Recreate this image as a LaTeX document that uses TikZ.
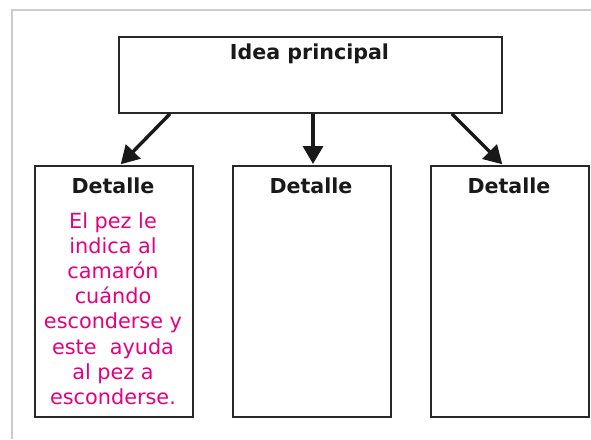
\documentclass[tikz,border=0pt]{standalone}
\usepackage{fontspec}
\setmainfont{DejaVu Sans}
\usetikzlibrary{arrows.meta}
\definecolor{framegray}{RGB}{204,204,204}
\definecolor{boxline}{RGB}{40,40,40}
\definecolor{notepink}{RGB}{230,0,126}
\tikzset{
  idearect/.style={draw=boxline,line width=1.8pt,anchor=north west,inner sep=0pt,
    minimum width=383pt,minimum height=76pt},
  detrect/.style={draw=boxline,line width=1.8pt,anchor=north west,inner sep=0pt,
    minimum width=158pt,minimum height=251pt},
  headtext/.style={anchor=base,inner sep=0pt,font=\fontsize{20.6}{24}\selectfont\bfseries,text=black!90},
  notetext/.style={anchor=north,inner sep=0pt,align=center,text=notepink,
    font=\fontsize{20.8}{25.2}\selectfont},
  linkarrow/.style={line width=3.4pt,draw=black!90,-{Triangle[length=18pt,width=20pt]},shorten >=1pt}
}
\begin{document}
\begin{tikzpicture}[x=1pt,y=-1pt]
\useasboundingbox (0,0) rectangle (591,439);
% frame
\draw[framegray,line width=2.6pt] (12,439) -- (12,10) -- (591,10);
% boxes
\node[idearect] (idea) at (118,36) {};
\node[detrect] (det1) at (34,165) {};
\node[detrect] (det2) at (232,165) {};
\node[detrect] (det3) at (430,165) {};
% Text Node
\node[headtext] (idealbl) at (309.5,59) {Idea principal};
\node[headtext] (det1lbl) at (113,193) {Detalle};
\node[headtext] (det2lbl) at (311,193) {Detalle};
\node[headtext] (det3lbl) at (509,193) {Detalle};
\node[notetext] (note) at (113,212) {El pez le\\indica al\\camarón\\cuándo\\esconderse y\\este\ \ ayuda\\al pez a\\esconderse.};
% arrows
\draw[linkarrow] ([xshift=52pt]idea.south west) -- ([xshift=86pt]det1.north west);
\draw[linkarrow] ([xshift=195pt]idea.south west) -- ([xshift=81pt]det2.north west);
\draw[linkarrow] ([xshift=-51pt]idea.south east) -- ([xshift=73pt]det3.north west);
\end{tikzpicture}
\end{document}
